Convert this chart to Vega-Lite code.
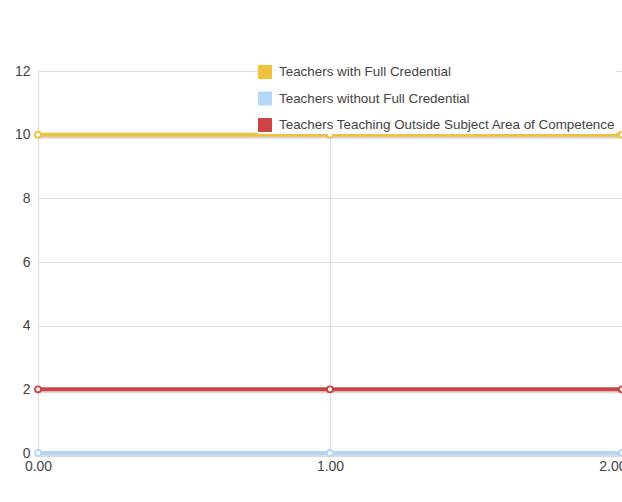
{
  "$schema": "https://vega.github.io/schema/vega-lite/v6.json",
  "width": 584,
  "height": 382,
  "autosize": "none",
  "padding": {"left": 38, "top": 71, "right": 0, "bottom": 49},
  "background": "white",
  "config": {
    "view": {"stroke": null},
    "font": "Arial, Liberation Sans, sans-serif",
    "axis": {"labelFont": "Liberation Sans", "labelColor": "#444444", "labelFontSize": 14, "gridColor": "#dddddd", "domain": false, "ticks": false}
  },
  "data": {
    "values": [
      {"x": 0, "value": 10, "series": "Teachers with Full Credential"},
      {"x": 1, "value": 10, "series": "Teachers with Full Credential"},
      {"x": 2, "value": 10, "series": "Teachers with Full Credential"},
      {"x": 0, "value": 0, "series": "Teachers without Full Credential"},
      {"x": 1, "value": 0, "series": "Teachers without Full Credential"},
      {"x": 2, "value": 0, "series": "Teachers without Full Credential"},
      {"x": 0, "value": 2, "series": "Teachers Teaching Outside Subject Area of Competence"},
      {"x": 1, "value": 2, "series": "Teachers Teaching Outside Subject Area of Competence"},
      {"x": 2, "value": 2, "series": "Teachers Teaching Outside Subject Area of Competence"}
    ]
  },
  "encoding": {
    "x": {"field": "x", "type": "quantitative", "scale": {"domain": [0, 2], "nice": false},
      "axis": {"values": [0, 1, 2], "format": ".2f", "title": null, "labelPadding": 6, "labelFlush": false,
        "labelAlign": {"condition": {"test": "datum.value === 2", "value": "right"}, "value": "center"},
        "labelOffset": {"condition": {"test": "datum.value === 2", "value": 4}, "value": 0}}},
    "y": {"field": "value", "type": "quantitative", "scale": {"domain": [0, 12], "nice": false},
      "axis": {"values": [0, 2, 4, 6, 8, 10, 12], "title": null, "labelPadding": 8}}
  },
  "layer": [
    {
      "mark": {"type": "line", "strokeWidth": 4, "yOffset": 2, "color": "#999999", "opacity": 0.35, "clip": false, "zindex": 2},
      "encoding": {"detail": {"field": "series"}}
    },
    {
      "mark": {"type": "line", "strokeWidth": 4, "clip": false, "zindex": 2},
      "encoding": {
        "color": {"field": "series", "type": "nominal",
          "scale": {"domain": ["Teachers with Full Credential", "Teachers without Full Credential", "Teachers Teaching Outside Subject Area of Competence"],
                    "range": ["#efc13d", "#b3d8f5", "#cc4444"]},
          "legend": {"title": null, "orient": "none", "legendX": 220, "legendY": -6, "symbolType": "square", "symbolSize": 169, "zindex": 0,
            "symbolStrokeColor": "#cccccc", "symbolStrokeWidth": 1, "symbolOpacity": 1, "labelFontSize": 13.4, "labelColor": "#444444",
            "labelFont": "Liberation Sans", "labelOffset": 7, "labelLimit": 400, "rowPadding": 8.5, "fillColor": "white", "padding": 0,
            "encode": {"symbols": {"update": {"fill": {"scale": "color", "field": "value"}, "stroke": {"value": "#cccccc"}, "fillOpacity": {"value": 1}}}}}}
      }
    },
    {
      "mark": {"type": "point", "filled": true, "fill": "white", "size": 36, "strokeWidth": 1.8, "opacity": 1, "clip": false, "zindex": 2},
      "encoding": {"stroke": {"field": "series", "type": "nominal", "legend": null,
        "scale": {"domain": ["Teachers with Full Credential", "Teachers without Full Credential", "Teachers Teaching Outside Subject Area of Competence"],
                  "range": ["#efc13d", "#b3d8f5", "#cc4444"]}}}
    }
  ]
}
